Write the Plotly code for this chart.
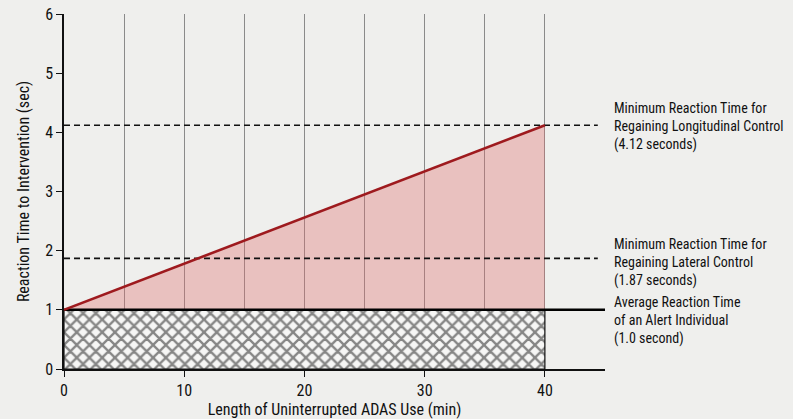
import plotly.graph_objects as go

# data
x_use = [0, 40]                 # minutes of uninterrupted ADAS use
rt_line = [1.0, 4.12]           # reaction time (sec)
alert_rt = 1.0
lateral_rt = 1.87
longitudinal_rt = 4.12
x_max = 45
ref_line_end = 44.4
grid_x = [5, 10, 15, 20, 25, 30, 35, 40]
x_ticks = [0, 10, 20, 30, 40]
y_ticks = [0, 1, 2, 3, 4, 5, 6]
labels = {
    "long": "Minimum Reaction Time for<br>Regaining Longitudinal Control<br>(4.12 seconds)",
    "lat": "Minimum Reaction Time for<br>Regaining Lateral Control<br>(1.87 seconds)",
    "alert": "Average Reaction Time<br>of an Alert Individual<br>(1.0 second)",
}
label_shift = {"long": -1, "lat": -4, "alert": -11}

FONT = "Liberation Sans Narrow, Arial Narrow, Roboto Condensed, Liberation Sans, sans-serif"
BG = "#efefed"

fig = go.Figure()

# hatched region (alert individual baseline)
fig.add_trace(go.Scatter(
    x=[x_use[0], x_use[1], x_use[1], x_use[0], x_use[0]],
    y=[0, 0, alert_rt, alert_rt, 0],
    mode="lines", line=dict(color="#111", width=1.2),
    fill="toself", fillcolor="#f6f6f5",
    fillpattern=dict(shape="x", size=9, solidity=0.45, fgcolor="#151515", bgcolor="#f6f6f5"),
    hoverinfo="skip", showlegend=False))

# pink triangle
fig.add_trace(go.Scatter(
    x=[x_use[0], x_use[1], x_use[1], x_use[0]],
    y=[rt_line[0], rt_line[1], alert_rt, alert_rt],
    mode="lines", line=dict(width=0), fill="toself",
    fillcolor="rgba(222,110,110,0.36)", hoverinfo="skip", showlegend=False))

# dashed reference lines
for v in (longitudinal_rt, lateral_rt):
    fig.add_trace(go.Scatter(x=[0, ref_line_end], y=[v, v], mode="lines",
                             line=dict(color="#111", width=1.7, dash="6px,4px"),
                             hoverinfo="skip", showlegend=False))

# solid alert line
fig.add_trace(go.Scatter(x=[0, x_max], y=[alert_rt, alert_rt], mode="lines",
                         line=dict(color="#000", width=2.5),
                         hoverinfo="skip", showlegend=False))

# red trend line
fig.add_trace(go.Scatter(x=x_use, y=rt_line, mode="lines",
                         line=dict(color="#9e1a1e", width=2.6),
                         hoverinfo="skip", showlegend=False))

for key, yv in (("long", longitudinal_rt), ("lat", lateral_rt), ("alert", alert_rt)):
    fig.add_annotation(x=1.013, xref="paper", y=yv, yref="y", text=labels[key],
                       showarrow=False, xanchor="left", yanchor="middle",
                       align="left", yshift=label_shift[key],
                       font=dict(family=FONT, size=14, color="#111"))

fig.update_layout(
    width=793, height=419,
    margin=dict(l=64, r=188, t=14, b=50),
    paper_bgcolor=BG, plot_bgcolor=BG,
    font=dict(family=FONT, size=16, color="#111"),
    xaxis=dict(range=[0, x_max], tickvals=x_ticks, ticks="outside", ticklen=6,
               tickcolor="#111", showline=True, linecolor="#111", linewidth=1.5,
               showgrid=True, gridcolor="#8a8a8a", gridwidth=1, zeroline=False,
               automargin=False, tickfont=dict(size=16),
               minor=dict(tickvals=[g for g in grid_x if g not in x_ticks],
                          showgrid=True, gridcolor="#8a8a8a", gridwidth=1),
               title=dict(text="Length of Uninterrupted ADAS Use (min)", standoff=6,
                          font=dict(size=16))),
    yaxis=dict(range=[0, 6], tickvals=y_ticks, ticks="outside", ticklen=6,
               tickcolor="#111", showline=True, linecolor="#111", linewidth=1.5,
               showgrid=False, zeroline=False, automargin=False, tickfont=dict(size=16),
               title=dict(text="Reaction Time to Intervention (sec)", standoff=12,
                          font=dict(size=16))),
)

fig.write_html("out.html", config={"displayModeBar": False},
               post_script="document.body.style.margin='0';document.body.style.background='%s';" % BG)
